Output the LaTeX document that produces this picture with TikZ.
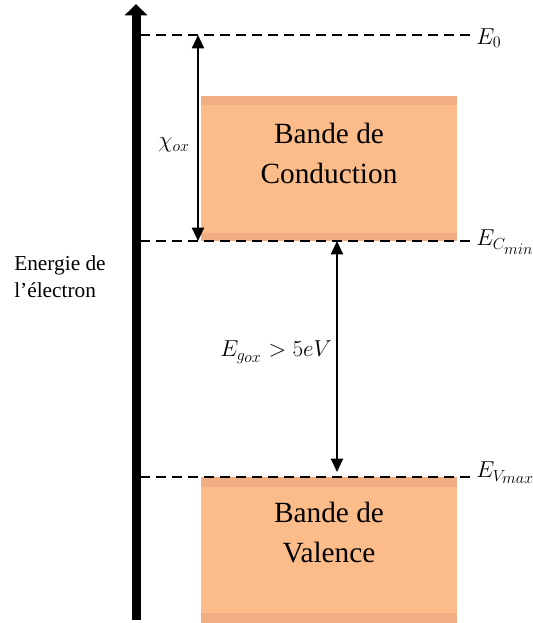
\documentclass[tikz,border=0pt]{standalone}
\usepackage{fontspec}
\setmainfont{Liberation Serif}
\usetikzlibrary{arrows.meta}
\definecolor{bandc}{RGB}{252,188,138}
\definecolor{stripec}{RGB}{240,174,130}
\begin{document}
\begin{tikzpicture}[x=0.75pt,y=-0.75pt,
  level/.style={line width=1.9pt, dash pattern=on 7.5pt off 4.5pt},
  gaparrow/.style={line width=1.5pt, {Triangle[width=9pt,length=10pt]}-{Triangle[width=9pt,length=10pt]}},
  bandtext/.style={font=\fontsize{22}{30}\selectfont, align=center},
  lvllabel/.style={anchor=west, font=\fontsize{17}{19}\selectfont, inner sep=0pt},
  mathlabel/.style={font=\fontsize{18}{20}\selectfont}
]
\useasboundingbox (0,0) rectangle (532,623);
% bands
\fill[bandc] (201,96) rectangle (457,241);
\fill[stripec] (201,96) rectangle (457,105);
\fill[stripec] (201,233) rectangle (457,241);
\fill[bandc] (201,477) rectangle (457,623);
\fill[stripec] (201,477) rectangle (457,487);
\fill[stripec] (201,613) rectangle (457,623);
\node[bandtext] (cb) at (329,153) {Bande de\\Conduction};
\node[bandtext] (vb) at (329,533) {Bande de\\Valence};
% axis
\coordinate (axb) at (136,620);
\coordinate (axt) at (136,4);
\draw[line width=6.75pt, -{Triangle[width=16.5pt,length=8.5pt]}] (axb) -- (axt);
\node[anchor=west, align=left, font=\fontsize{16}{20}\selectfont, inner sep=0pt] (ylab) at (14,277) {Energie de\\l’électron};
% levels
\coordinate (e0l) at (140,35);  \coordinate (e0r) at (470,35);
\coordinate (ecl) at (140,241); \coordinate (ecr) at (470,241);
\coordinate (evl) at (140,477); \coordinate (evr) at (470,477);
\draw[level] (e0l) -- (e0r);
\draw[level] (ecl) -- (ecr);
\draw[level] (evl) -- (evr);
\node[lvllabel] (l0) at (476,38) {$E_0$};
\node[lvllabel] (lc) at (476,242) {$E_{C_{\scriptstyle min}}$};
\node[lvllabel] (lv) at (476,473) {$E_{V_{\scriptstyle max}}$};
% arrows
\coordinate (ch1) at (198,35); \coordinate (ch2) at (198,241);
\draw[gaparrow] (ch1) -- (ch2);
\node[mathlabel] (chil) at (174,145) {$\chi_{ox}$};
\coordinate (eg1) at (337,241); \coordinate (eg2) at (337,472);
\draw[gaparrow] (eg1) -- (eg2);
\node[mathlabel] (egl) at (276,352) {$E_{g_{\scriptstyle ox}} > 5eV$};
\end{tikzpicture}
\end{document}
